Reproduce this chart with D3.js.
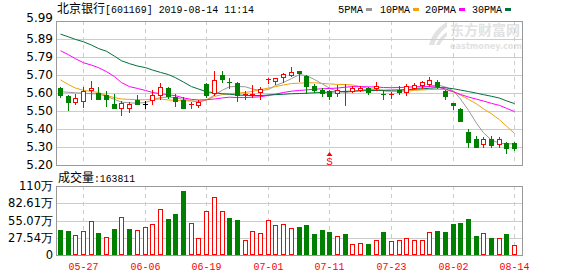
<!DOCTYPE html>
<html>
<head>
<meta charset="utf-8">
<script src="https://cdn.jsdelivr.net/npm/d3@7"></script>
<style>
  body { margin: 0; background: #fff; }
  svg { display: block; }
</style>
</head>
<body>
<div id="chart"></div>
<script>
// Trading days shown (2019)
const dates = ["05-22","05-23","05-24","05-27","05-28","05-29","05-30","05-31","06-03","06-04",
  "06-05","06-06","06-10","06-11","06-12","06-13","06-14","06-17","06-18","06-19",
  "06-20","06-21","06-24","06-25","06-26","06-27","06-28","07-01","07-02","07-03",
  "07-04","07-05","07-08","07-09","07-10","07-11","07-12","07-15","07-16","07-17",
  "07-18","07-19","07-22","07-23","07-24","07-25","07-26","07-29","07-30","07-31",
  "08-01","08-02","08-05","08-06","08-07","08-08","08-09","08-12","08-13","08-14"];

const openP = [5.620,5.580,5.547,5.552,5.614,5.595,5.585,5.532,5.512,5.512,
  5.556,5.537,5.554,5.585,5.623,5.575,5.558,5.528,5.530,5.643,
  5.596,5.693,5.657,5.651,5.583,5.585,5.600,5.667,5.662,5.681,
  5.693,5.717,5.690,5.632,5.612,5.608,5.594,5.605,5.607,5.612,
  5.621,5.620,5.587,5.583,5.612,5.600,5.625,5.637,5.647,5.658,
  5.608,5.538,5.505,5.381,5.345,5.315,5.345,5.313,5.322,5.322];
const closeP = [5.585,5.543,5.569,5.608,5.621,5.560,5.560,5.512,5.538,5.532,
  5.537,5.537,5.583,5.629,5.580,5.553,5.514,5.532,5.547,5.585,
  5.668,5.670,5.654,5.585,5.590,5.592,5.618,5.670,5.678,5.699,
  5.708,5.703,5.632,5.610,5.594,5.576,5.612,5.601,5.625,5.625,
  5.600,5.635,5.585,5.587,5.603,5.632,5.640,5.655,5.665,5.635,
  5.576,5.528,5.440,5.327,5.300,5.340,5.309,5.340,5.292,5.292];
const highP = [5.630,5.585,5.590,5.630,5.660,5.630,5.607,5.590,5.552,5.547,
  5.585,5.550,5.610,5.648,5.630,5.590,5.572,5.543,5.556,5.650,
  5.717,5.715,5.680,5.655,5.607,5.640,5.630,5.680,5.680,5.703,
  5.740,5.717,5.693,5.643,5.625,5.613,5.638,5.645,5.632,5.635,
  5.630,5.655,5.612,5.600,5.635,5.642,5.648,5.660,5.685,5.665,
  5.610,5.538,5.515,5.396,5.358,5.352,5.358,5.354,5.327,5.327];
const lowP = [5.575,5.500,5.536,5.516,5.560,5.560,5.525,5.512,5.476,5.490,
  5.537,5.513,5.536,5.561,5.570,5.525,5.514,5.515,5.520,5.573,
  5.583,5.655,5.624,5.550,5.560,5.573,5.563,5.648,5.643,5.658,
  5.690,5.660,5.597,5.598,5.580,5.563,5.578,5.528,5.603,5.605,
  5.587,5.613,5.563,5.570,5.590,5.585,5.616,5.625,5.635,5.625,
  5.563,5.505,5.440,5.300,5.300,5.300,5.300,5.297,5.267,5.285];

// Moving averages
const ma5 = [5.602,5.599,5.596,5.594,5.591,5.590,5.576,5.560,5.545,5.541,
  5.539,5.543,5.557,5.570,5.573,5.569,5.560,5.552,5.544,5.557,
  5.584,5.611,5.629,5.631,5.629,5.617,5.608,5.614,5.636,5.653,
  5.674,5.696,5.690,5.669,5.644,5.622,5.603,5.598,5.603,5.610,
  5.615,5.614,5.609,5.607,5.603,5.611,5.617,5.625,5.634,5.639,
  5.628,5.606,5.562,5.500,5.429,5.377,5.336,5.320,5.316,5.316];
const ma10 = [5.667,5.641,5.622,5.610,5.603,5.598,5.581,5.570,5.562,5.560,
  5.558,5.558,5.561,5.562,5.557,5.554,5.553,5.551,5.549,5.557,
  5.576,5.587,5.591,5.595,5.598,5.604,5.614,5.622,5.630,5.639,
  5.647,5.649,5.651,5.651,5.647,5.645,5.642,5.641,5.639,5.630,
  5.620,5.614,5.606,5.603,5.603,5.606,5.610,5.612,5.614,5.615,
  5.614,5.600,5.584,5.560,5.535,5.508,5.481,5.448,5.413,5.373];
const ma20 = [5.827,5.805,5.783,5.761,5.748,5.734,5.712,5.685,5.652,5.630,
  5.620,5.609,5.598,5.591,5.585,5.580,5.568,5.560,5.557,5.558,
  5.562,5.568,5.572,5.570,5.570,5.572,5.574,5.582,5.589,5.598,
  5.605,5.609,5.612,5.616,5.618,5.620,5.622,5.627,5.630,5.630,
  5.629,5.628,5.625,5.624,5.625,5.627,5.629,5.630,5.630,5.628,
  5.617,5.602,5.587,5.573,5.561,5.551,5.538,5.527,5.511,5.493];
const ma30 = [5.918,5.903,5.889,5.876,5.858,5.839,5.824,5.797,5.772,5.756,
  5.743,5.734,5.721,5.708,5.696,5.679,5.655,5.630,5.617,5.602,
  5.596,5.591,5.588,5.584,5.582,5.581,5.581,5.584,5.586,5.588,
  5.591,5.592,5.594,5.596,5.598,5.600,5.602,5.604,5.605,5.607,
  5.608,5.609,5.610,5.611,5.612,5.614,5.616,5.618,5.621,5.624,
  5.624,5.618,5.611,5.603,5.594,5.586,5.577,5.567,5.552,5.537];

// Volume in 万 shares, and whether the bar is drawn red (up) or green (down)
const volume = [39.9,38.3,31.4,37.8,53.7,35.1,28.2,41.5,60.2,41.5,
  39.9,44.2,49.5,72.9,57.5,65.9,102.2,51.1,27.7,69.7,
  92.1,69.7,58.5,55.9,23.9,37.8,34.6,55.3,47.3,48.9,
  42.6,44.7,47.9,33.5,39.9,36.7,29.8,33.5,17.6,18.6,
  17.6,23.9,36.7,22.3,23.9,26.6,23.9,23.9,36.7,38.3,
  36.7,49.5,51.1,57.5,30.3,35.1,27.1,27.1,33.5,16.4];
const volUp = [0,0,1,1,1,0,1,0,1,0, 1,1,1,1,0,0,0,1,1,1,
  1,1,0,0,1,1,1,1,1,1, 1,0,0,0,0,0,1,0,1,1,
  0,1,0,1,1,1,1,1,1,0, 0,0,0,0,0,1,0,1,0,1];

const priceLabels = ["5.20","5.30","5.40","5.50","5.60","5.70","5.79","5.89","5.99"];
const volLabels = ["0","27.54万","55.07万","82.61万","110万"];
const xTickDates = ["05-27","06-06","06-19","07-01","07-11","07-23","08-02","08-14"];
const maNames = ["5PMA","10PMA","20PMA","30PMA"];
const markerDate = "07-11";

// Layout
const width = 578, height = 276;
const left = 56, right = 522;
const pTop = 21, pBot = 165;   // price panel
const vTop = 186, vBot = 255;  // volume panel
const RED = "#ff0000", GREEN = "#008000";
const maColors = ["#999999", "#f0a30a", "#ff00ff", "#00703c"];
const mono = "'Liberation Mono', 'DejaVu Sans Mono', monospace";
const cjk = "'Noto Sans CJK SC', sans-serif";
const sans = "'DejaVu Sans', Verdana, sans-serif";

const svg = d3.select("#chart")
  .append("svg")
  .attr("width", width)
  .attr("height", height)
  .style("background", "#fff");

// Scales
const x = d3.scaleBand()
  .domain(dates)
  .range([left, left + dates.length * 7.7]);
const cx = d => Math.round(x(d) + x.bandwidth() / 2);

const y = d3.scaleLinear().domain([5.20, 5.99]).range([pBot, pTop]);
const yv = d3.scaleLinear().domain([0, 110.14]).range([vBot, vTop]);

const priceTicks = d3.range(priceLabels.length).map(i => 5.20 + i * 0.79 / 8);
const volTicks = d3.range(volLabels.length).map(i => i * 110.14 / 4);

// Watermark (eastmoney logo)
const wm = svg.append("g").attr("fill", "#e2e2e2");
wm.append("path")
  .attr("d", "M429,45 C431,36 437,28 447,22 L447,27 C441,31 437,37 434,45 Z M436,45 C438,40 442,35 447,32 L447,36 C444,38 441,42 440,45 Z");
wm.append("text")
  .attr("x", 450).attr("y", 35)
  .style("font-family", cjk).style("font-size", "14px").style("font-weight", "bold")
  .text("东方财富网");
wm.append("text")
  .attr("x", 450).attr("y", 48.5)
  .style("font-family", sans).style("font-size", "9.5px").style("font-weight", "bold")
  .attr("textLength", 72).attr("lengthAdjust", "spacingAndGlyphs")
  .text("eastmoney.com");

// Gridlines - horizontal
function hGrid(ticks, scale) {
  svg.append("g")
    .selectAll("line")
    .data(ticks.slice(1, -1))
    .join("line")
    .attr("x1", left).attr("x2", right)
    .attr("y1", d => Math.round(scale(d)) + 0.5)
    .attr("y2", d => Math.round(scale(d)) + 0.5)
    .attr("stroke", "#cccccc");
}
hGrid(priceTicks, y);
hGrid(volTicks, yv);

// Gridlines - vertical dashed
[[pTop, pBot], [vTop, vBot]].forEach(([t, b]) => {
  svg.append("g")
    .selectAll("line")
    .data(xTickDates)
    .join("line")
    .attr("x1", d => cx(d) + 0.5).attr("x2", d => cx(d) + 0.5)
    .attr("y1", t).attr("y2", b)
    .attr("stroke", "#cccccc")
    .attr("stroke-dasharray", "4,4");
});

// Frames
[[pTop, pBot], [vTop, vBot]].forEach(([t, b]) => {
  svg.append("rect")
    .attr("x", left + 0.5).attr("y", t + 0.5)
    .attr("width", right - left).attr("height", b - t)
    .attr("fill", "none")
    .attr("stroke", "#999999");
});

// Y axes
const pAxis = svg.append("g")
  .attr("transform", `translate(${left},0)`)
  .call(d3.axisLeft(y).tickValues(priceTicks).tickSize(0).tickPadding(3)
    .tickFormat((d, i) => priceLabels[i]));
pAxis.select(".domain").remove();
pAxis.selectAll("text")
  .style("font-family", sans).style("font-size", "12px").attr("fill", "#000")
  .attr("dy", (d, i) => i === priceLabels.length - 1 ? "0" : "0.32em");

const vAxis = svg.append("g")
  .attr("transform", `translate(${left},0)`)
  .call(d3.axisLeft(yv).tickValues(volTicks).tickSize(0).tickPadding(3)
    .tickFormat((d, i) => volLabels[i]));
vAxis.select(".domain").remove();
vAxis.selectAll("text")
  .style("font-family", sans).style("font-size", "11.5px").attr("fill", "#000");

// X axis labels
svg.append("g")
  .selectAll("text")
  .data(xTickDates)
  .join("text")
  .attr("x", d => cx(d) + 0.5)
  .attr("y", 270)
  .attr("text-anchor", "middle")
  .attr("fill", RED)
  .style("font-family", mono).style("font-size", "11px")
  .attr("textLength", 30).attr("lengthAdjust", "spacingAndGlyphs")
  .text(d => d);

// Moving average lines
const plot = svg.append("g");
[ma5, ma10, ma20, ma30].forEach((series, k) => {
  const line = d3.line()
    .x((d, i) => cx(dates[i]) + 0.5)
    .y(d => y(d));
  plot.append("path")
    .datum(series)
    .attr("d", line)
    .attr("fill", "none")
    .attr("stroke", maColors[k])
    .attr("stroke-width", 1);
});

// Candles
const candles = dates.map((d, i) => ({
  date: d, o: openP[i], c: closeP[i], h: highP[i], l: lowP[i]
}));
const candleG = svg.append("g").attr("shape-rendering", "crispEdges");
candles.forEach(k => {
  const xc = cx(k.date);
  const col = k.c > k.o ? RED : (k.c < k.o ? GREEN : "#000");
  const yo = Math.round(y(k.o)), yc = Math.round(y(k.c));
  const top = Math.min(yo, yc), bot = Math.max(yo, yc);
  candleG.append("line")
    .attr("x1", xc + 0.5).attr("x2", xc + 0.5)
    .attr("y1", Math.round(y(k.h))).attr("y2", Math.round(y(k.l)) + 1)
    .attr("stroke", col);
  if (bot - top < 2) {
    candleG.append("line")
      .attr("x1", xc - 2).attr("x2", xc + 3)
      .attr("y1", top + 0.5).attr("y2", top + 0.5)
      .attr("stroke", col);
  } else if (k.c > k.o) {
    candleG.append("rect")
      .attr("x", xc - 1.5).attr("y", top + 0.5)
      .attr("width", 4).attr("height", bot - top)
      .attr("fill", "#fff").attr("stroke", col);
  } else {
    candleG.append("rect")
      .attr("x", xc - 2).attr("y", top)
      .attr("width", 5).attr("height", bot - top + 1)
      .attr("fill", col);
  }
});

// Event marker "S"
const mx = cx(markerDate) + 0.5;
svg.append("path")
  .attr("d", `M${mx},152 L${mx + 3},156 L${mx - 3},156 Z`)
  .attr("fill", RED);
svg.append("text")
  .attr("x", mx).attr("y", 164.5)
  .attr("text-anchor", "middle")
  .attr("fill", RED)
  .style("font-family", mono).style("font-size", "11px")
  .text("S");

// Volume bars
svg.append("g")
  .attr("shape-rendering", "crispEdges")
  .selectAll("rect")
  .data(dates)
  .join("rect")
  .attr("x", (d, i) => volUp[i] ? cx(d) - 1.5 : cx(d) - 2)
  .attr("y", (d, i) => Math.round(yv(volume[i])) + (volUp[i] ? 0.5 : 0))
  .attr("width", (d, i) => volUp[i] ? 4 : 5)
  .attr("height", (d, i) => vBot - Math.round(yv(volume[i])) - (volUp[i] ? 1 : 0))
  .attr("fill", (d, i) => volUp[i] ? "#fff" : GREEN)
  .attr("stroke", (d, i) => volUp[i] ? RED : "none");

// Title
const title = svg.append("text").attr("x", 57).attr("y", 13).attr("fill", "#000");
title.append("tspan").style("font-family", cjk).style("font-size", "12px").text("北京银行");
title.append("tspan").style("font-family", mono).style("font-size", "11px")
  .attr("textLength", 149).attr("lengthAdjust", "spacingAndGlyphs")
  .text("[601169] 2019-08-14 11:14");

// Legend
const legendX = [338, 380, 425, 472];
const legendW = [25, 30, 31, 30];
maNames.forEach((name, k) => {
  svg.append("text")
    .attr("x", legendX[k]).attr("y", 13)
    .attr("fill", "#000")
    .style("font-family", mono).style("font-size", "11px")
    .attr("textLength", legendW[k]).attr("lengthAdjust", "spacingAndGlyphs")
    .text(name);
  svg.append("rect")
    .attr("x", legendX[k] + legendW[k] + 3).attr("y", 8)
    .attr("width", 6).attr("height", 3)
    .attr("fill", maColors[k]);
});

// Volume caption
const cap = svg.append("text").attr("x", 58).attr("y", 182).attr("fill", "#000");
cap.append("tspan").style("font-family", cjk).style("font-size", "12px").text("成交量");
cap.append("tspan").style("font-family", mono).style("font-size", "11px")
  .attr("textLength", 41).attr("lengthAdjust", "spacingAndGlyphs")
  .text(":163811");
</script>
</body>
</html>
